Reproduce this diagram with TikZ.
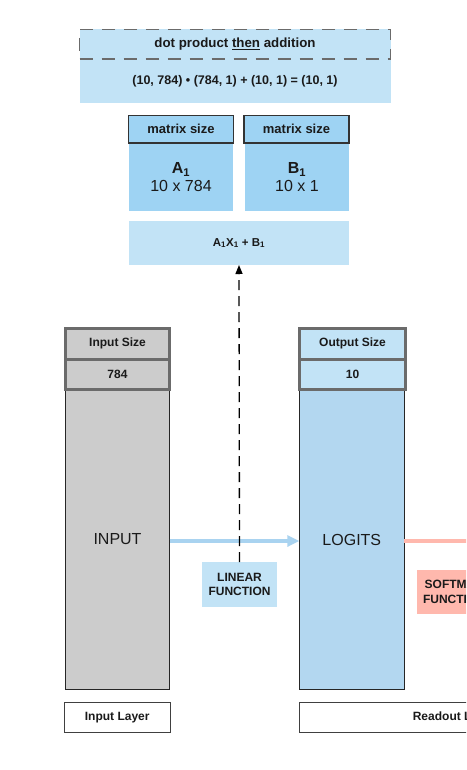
\documentclass[tikz,border=0pt]{standalone}
\usepackage{fontspec}
\setmainfont{Liberation Sans}
\usetikzlibrary{arrows.meta}
\definecolor{lblue}{HTML}{C2E3F6}
\definecolor{mblue}{HTML}{9ED3F3}
\definecolor{oblue}{HTML}{B3D7F0}
\definecolor{abl}{HTML}{A9D3F0}
\definecolor{gfill}{HTML}{CCCCCC}
\definecolor{gline}{HTML}{6B6B6B}
\definecolor{salmon}{HTML}{FFB8AD}
\definecolor{txt}{HTML}{1A1A1A}
\tikzset{
  box/.style={inner sep=0pt, outer sep=0pt, text=txt, align=center},
  fsB/.style={font=\fontsize{#1}{#1}\selectfont\bfseries},
  fsR/.style={font=\fontsize{#1}{#1}\selectfont},
  thickhdr/.style={box, draw=gline, line width=3pt},
  thin/.style={draw=black!85, line width=1pt},
}
\begin{document}
\begin{tikzpicture}[x=1pt,y=-1pt]
\useasboundingbox (0,0) rectangle (466,770);
\clip (0,0) rectangle (466,770);
\fill[white] (0,0) rectangle (466,770);
% top formula block
\node[box, fill=lblue, minimum width=311pt, minimum height=44pt, fsB=12.5] (formula) at (235,81) {(10, 784) \textbullet\ (784, 1) + (10, 1) = (10, 1)};
\node[box, fill=lblue, draw=gline, line width=1.2pt, dash pattern=on 13pt off 9pt, minimum width=311pt, minimum height=29.5pt, fsB=13.3] (dotp) at (235,44.25) {dot product \underline{then} addition};
% matrices
\node[box, fill=mblue, minimum width=104pt, minimum height=68pt, fsR=16, align=center] (bodyA) at (181,177) {\textbf{A\textsubscript{1}}\\[2pt]10 x 784};
\node[box, fill=mblue, draw=black!80, line width=1.2pt, minimum width=105pt, minimum height=27.5pt, fsB=13] (hdrA) at (181,129.25) {matrix size};
\node[box, fill=mblue, minimum width=104pt, minimum height=68pt, fsR=16, align=center] (bodyB) at (297,177) {\textbf{B\textsubscript{1}}\\[2pt]10 x 1};
\node[box, fill=mblue, draw=black!80, line width=1.2pt, minimum width=105pt, minimum height=27.5pt, fsB=13] (hdrB) at (296.5,129.25) {matrix size};
\node[box, fill=lblue, minimum width=220pt, minimum height=44pt, fsB=11.5] (sum) at (239,243) {A\textsubscript{1}X\textsubscript{1} + B\textsubscript{1}};
% input column
\node[box, thin, fill=gfill, minimum width=104pt, minimum height=299pt, fsR=16] (inBody) at (117.5,539.5) {INPUT};
\node[thickhdr, fill=gfill, minimum width=104pt, minimum height=30.8pt, fsB=12] (inHdr) at (117.5,343.6) {Input Size};
\node[thickhdr, fill=gfill, minimum width=104pt, minimum height=30.5pt, fsB=12] (inVal) at (117.5,374.25) {784};
% output column
\node[box, thin, fill=oblue, minimum width=105pt, minimum height=299pt, fsR=16] (outBody) at (351.8,539.5) {LOGITS};
\node[thickhdr, fill=lblue, minimum width=106pt, minimum height=30.8pt, fsB=12] (outHdr) at (352.5,343.6) {Output Size};
\node[thickhdr, fill=lblue, minimum width=106pt, minimum height=30.5pt, fsB=12] (outVal) at (352.5,374.25) {10};
% functions
\node[box, fill=lblue, minimum width=75pt, minimum height=45pt, fsB=12, align=center] (linear) at (239.5,584.5) {LINEAR\\[2.5pt]FUNCTION};
\node[box, fill=salmon, minimum width=74pt, minimum height=44pt, fsB=12, align=center] (softmax) at (454,592) {SOFTMAX\\[2.5pt]FUNCTION};
% layer labels
\node[box, draw=black!75, line width=1pt, fill=white, minimum width=105.5pt, minimum height=30pt, fsB=12] (inLayer) at (117.25,717.5) {Input Layer};
\node[box, draw=black!75, line width=1pt, fill=white, minimum width=311pt, minimum height=30pt, fsB=12] (readout) at (454.5,717.5) {Readout Layer};
% connectors
\draw[abl, line width=4pt, -{Triangle[length=12pt,width=11pt]}] ([yshift=-1.5pt]inBody.east) -- ([yshift=-1.5pt]outBody.west);
\coordinate (smEnd) at (480,541);
\draw[salmon, line width=4pt] ([yshift=-1.5pt]outBody.east) -- (smEnd);
\draw[black, line width=1.3pt, dash pattern=on 10pt off 6pt, -{Triangle[length=9pt,width=7pt]}] (linear.north) -- (sum.south);
\end{tikzpicture}
\end{document}
